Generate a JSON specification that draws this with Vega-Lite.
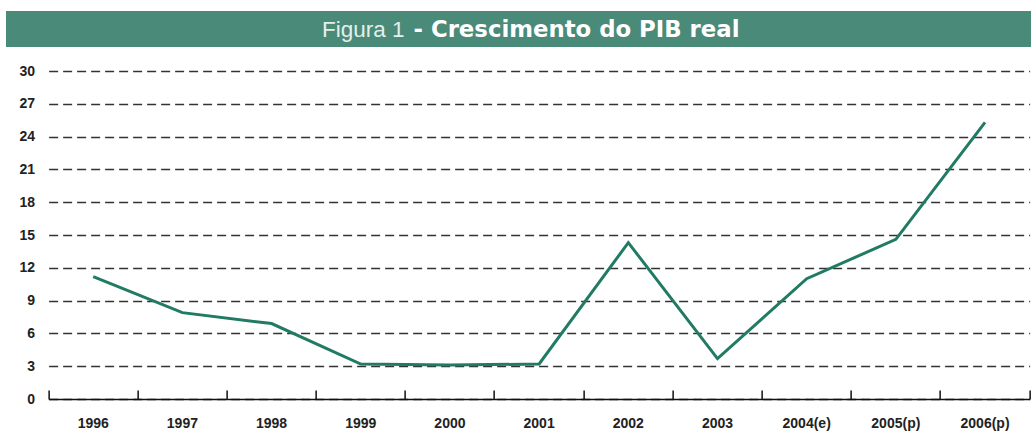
{
  "$schema": "https://vega.github.io/schema/vega-lite/v6.json",
  "background": "white",
  "padding": {"left": 5, "top": 11, "right": 0, "bottom": 5},
  "spacing": 17,
  "center": true,
  "config": {"view": {"stroke": null}, "concat": {"spacing": 17}},
  "vconcat": [
    {
      "width": 1067,
      "height": 36,
      "data": {"values": [{"t1": "Figura 1", "t2": "- Crescimento do PIB real"}]},
      "layer": [
        {"mark": {"type": "rect", "color": "#4a8a78"}, "encoding": {}},
        {
          "mark": {"type": "text", "align": "right", "baseline": "alphabetic", "dx": -135, "dy": 8, "font": "Liberation Sans", "fontSize": 22.5, "fontWeight": "normal", "color": "#e4efeb"},
          "encoding": {"text": {"field": "t1"}}
        },
        {
          "mark": {"type": "text", "align": "left", "baseline": "alphabetic", "dx": -126, "dy": 8, "font": "DejaVu Sans", "fontSize": 22.8, "fontWeight": "bold", "color": "#ffffff"},
          "encoding": {"text": {"field": "t2"}}
        }
      ]
    },
    {
      "width": 981,
      "height": 328,
      "data": {"values": [
        {"ano": "1996", "pib": 11.2},
        {"ano": "1997", "pib": 7.9},
        {"ano": "1998", "pib": 6.9},
        {"ano": "1999", "pib": 3.2},
        {"ano": "2000", "pib": 3.1},
        {"ano": "2001", "pib": 3.2},
        {"ano": "2002", "pib": 14.3},
        {"ano": "2003", "pib": 3.7},
        {"ano": "2004(e)", "pib": 11.0},
        {"ano": "2005(p)", "pib": 14.6},
        {"ano": "2006(p)", "pib": 25.3}
      ]},
      "mark": {"type": "line", "color": "#217a64", "strokeWidth": 3, "strokeJoin": "miter"},
      "encoding": {
        "x": {
          "field": "ano", "type": "nominal", "sort": null,
          "scale": {"type": "band", "paddingInner": 0, "paddingOuter": 0},
          "axis": {
            "title": null, "labelAngle": 0, "grid": false,
            "domainColor": "#111", "domainWidth": 1.5,
            "tickColor": "#111", "tickWidth": 1.5, "tickSize": -9,
            "bandPosition": 1, "tickExtra": true,
            "labelPadding": 26, "labelFont": "Liberation Sans", "labelFontSize": 14, "labelFontWeight": "bold", "labelColor": "#222"
          }
        },
        "y": {
          "field": "pib", "type": "quantitative",
          "scale": {"domain": [0, 30], "nice": false, "zero": true},
          "axis": {
            "title": null, "values": [0, 3, 6, 9, 12, 15, 18, 21, 24, 27, 30],
            "domain": false, "ticks": false,
            "grid": true, "gridColor": "#333", "gridWidth": 1.6, "gridDash": [9, 5],
            "labelPadding": 14, "minExtent": 43, "maxExtent": 43,
            "labelFont": "Liberation Sans", "labelFontSize": 14, "labelFontWeight": "bold", "labelColor": "#222"
          }
        }
      }
    }
  ]
}
